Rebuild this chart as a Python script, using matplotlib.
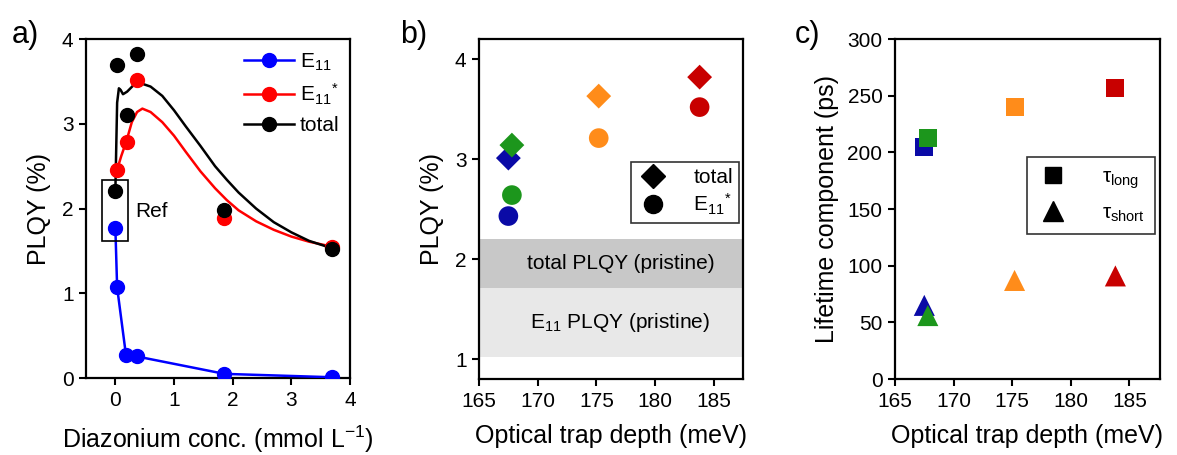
import numpy as np
import matplotlib.pyplot as plt
from matplotlib.lines import Line2D
from matplotlib.patches import Rectangle

plt.rcParams['font.family'] = ['Liberation Sans', 'DejaVu Sans']
plt.rcParams['mathtext.fontset'] = 'custom'
plt.rcParams['mathtext.rm'] = 'Liberation Sans'
plt.rcParams['mathtext.it'] = 'Liberation Sans:italic'

# panel a: PLQY vs diazonium concentration
conc_e11 = [0.0, 0.03, 0.18, 0.37, 1.86, 3.7]
plqy_e11 = [1.77, 1.07, 0.275, 0.255, 0.05, 0.01]
conc_star = [0.03, 0.19, 0.37, 1.86, 3.7]
plqy_star = [2.46, 2.79, 3.52, 1.89, 1.55]
conc_total = [0.0, 0.03, 0.19, 0.37, 1.86, 3.7]
plqy_total = [2.21, 3.69, 3.10, 3.82, 1.98, 1.52]

fit_total_x = [0.0, 0.03, 0.06, 0.09, 0.13, 0.2, 0.3, 0.43, 0.6, 0.8, 1.0, 1.2,
               1.45, 1.7, 1.9, 2.1, 2.4, 2.7, 3.0, 3.3, 3.7]
fit_total_y = [2.21, 3.25, 3.42, 3.40, 3.35, 3.38, 3.45, 3.48, 3.44, 3.33, 3.16, 2.97,
               2.74, 2.50, 2.34, 2.19, 2.00, 1.84, 1.72, 1.62, 1.53]
fit_star_x = [0.03, 0.1, 0.19, 0.28, 0.37, 0.46, 0.6, 0.8, 1.0, 1.2, 1.45, 1.7,
              1.9, 2.1, 2.4, 2.7, 3.0, 3.3, 3.7]
fit_star_y = [2.46, 2.62, 2.80, 3.02, 3.14, 3.18, 3.14, 3.02, 2.86, 2.67, 2.44, 2.24,
              2.10, 1.98, 1.85, 1.75, 1.67, 1.61, 1.55]

# panels b, c: per-sample values vs optical trap depth
trap_depth = [167.5, 167.8, 175.2, 183.8]
sample_colors = ['#0a0aa6', '#1c961c', '#ff8c1a', '#c80000']
plqy_total_b = [3.01, 3.14, 3.63, 3.82]
plqy_star_b = [2.43, 2.64, 3.21, 3.52]
tau_long = [205, 213, 240, 257]
tau_short = [65, 56, 87, 91]

pristine_total = (1.71, 2.20)
pristine_e11 = (1.02, 1.71)

fig = plt.figure(figsize=(11.77, 4.55), dpi=100)
ax1 = fig.add_axes([0.0731, 0.169, 0.2243, 0.745])
ax2 = fig.add_axes([0.4070, 0.167, 0.2243, 0.747])
ax3 = fig.add_axes([0.7604, 0.167, 0.2251, 0.747])

for ax in (ax1, ax2, ax3):
    for s in ax.spines.values():
        s.set_linewidth(1.6)
    ax.tick_params(direction='out', length=5, width=1.5, labelsize=15, pad=4,
                   top=False, right=False)

# a)
ax1.plot(conc_e11, plqy_e11, color='#0000ff', lw=1.8, marker='o', ms=10, zorder=3)
ax1.plot(conc_star, plqy_star, color='#ff0000', lw=0, marker='o', ms=10, zorder=3)
ax1.plot(fit_star_x, fit_star_y, color='#ff0000', lw=1.8, zorder=2)
ax1.plot(conc_total, plqy_total, color='black', lw=0, marker='o', ms=10, zorder=4)
ax1.plot(fit_total_x, fit_total_y, color='black', lw=1.8, zorder=2)
ax1.add_patch(Rectangle((-0.22, 1.62), 0.44, 0.72, fill=False, lw=1.2,
                        edgecolor='black', zorder=5))
ax1.text(0.34, 1.97, 'Ref', fontsize=15, va='center', ha='left')
ax1.set_xlim(-0.5, 4)
ax1.set_ylim(0, 4)
ax1.set_xticks([0, 1, 2, 3, 4])
ax1.set_yticks([0, 1, 2, 3, 4])
ax1.set_xlabel('Diazonium conc. (mmol L$^{-1}$)', fontsize=18, labelpad=10)
ax1.set_ylabel('PLQY (%)', fontsize=18, labelpad=8)
handles_a = [Line2D([], [], color=c, lw=1.8, marker='o', ms=10) for c in ('#0000ff', '#ff0000', 'black')]
ax1.legend(handles_a, ['E$_{11}$', 'E$_{11}$$^{*}$', 'total'], loc='upper right',
           bbox_to_anchor=(1.0, 0.995), frameon=False, fontsize=15, handlelength=2.4,
           handletextpad=0.3, labelspacing=0.45, borderaxespad=0.3, borderpad=0.2)

# b)
ax2.axhspan(*pristine_total, color='#c8c8c8', lw=0, zorder=0)
ax2.axhspan(*pristine_e11, color='#e8e8e8', lw=0, zorder=0)
ax2.text(177.1, np.mean(pristine_total), 'total PLQY (pristine)', fontsize=15,
         ha='center', va='center')
ax2.text(177.0, np.mean(pristine_e11), 'E$_{11}$ PLQY (pristine)', fontsize=15,
         ha='center', va='center')
ax2.scatter(trap_depth, plqy_total_b, c=sample_colors, marker='D', s=160, lw=0, zorder=3)
ax2.scatter(trap_depth, plqy_star_b, c=sample_colors, marker='o', s=200, lw=0, zorder=3)
ax2.set_xlim(165, 187.5)
ax2.set_ylim(0.8, 4.2)
ax2.set_xticks([165, 170, 175, 180, 185])
ax2.set_yticks([1, 2, 3, 4])
ax2.set_xlabel('Optical trap depth (meV)', fontsize=18, labelpad=10)
ax2.set_ylabel('PLQY (%)', fontsize=18, labelpad=8)
handles_b = [Line2D([], [], color='black', lw=0, marker='D', ms=12),
             Line2D([], [], color='black', lw=0, marker='o', ms=13)]
leg = ax2.legend(handles_b, ['total', 'E$_{11}$$^{*}$'], loc='upper right',
                 bbox_to_anchor=(0.985, 0.638), borderaxespad=0, fontsize=15,
                 fancybox=False, edgecolor='black', handletextpad=1.2,
                 labelspacing=0.2, borderpad=0.3, handlelength=1.5)
leg.get_frame().set_linewidth(1.2)

# c)
ax3.scatter(trap_depth, tau_long, c=sample_colors, marker='s', s=170, lw=0, zorder=3)
ax3.scatter(trap_depth, tau_short, c=sample_colors, marker='^', s=230, lw=0, zorder=3)
ax3.set_xlim(165, 187.6)
ax3.set_ylim(0, 300)
ax3.set_xticks([165, 170, 175, 180, 185])
ax3.set_yticks(np.arange(0, 301, 50))
ax3.set_xlabel('Optical trap depth (meV)', fontsize=18, labelpad=10)
ax3.set_ylabel('Lifetime component (ps)', fontsize=18, labelpad=6)
handles_c = [Line2D([], [], color='black', lw=0, marker='s', ms=12),
             Line2D([], [], color='black', lw=0, marker='^', ms=14)]
leg = ax3.legend(handles_c, ['τ$_{\\mathregular{long}}$', 'τ$_{\\mathregular{short}}$'],
                 loc='upper right', bbox_to_anchor=(0.981, 0.653), borderaxespad=0,
                 fontsize=15, fancybox=False, edgecolor='black', handletextpad=1.6,
                 labelspacing=0.6, borderpad=0.5, handlelength=1.5)
leg.get_frame().set_linewidth(1.2)

fig.text(0.010, 0.905, 'a)', fontsize=22)
fig.text(0.340, 0.905, 'b)', fontsize=22)
fig.text(0.675, 0.905, 'c)', fontsize=22)

fig.savefig('out.png', dpi=100)
